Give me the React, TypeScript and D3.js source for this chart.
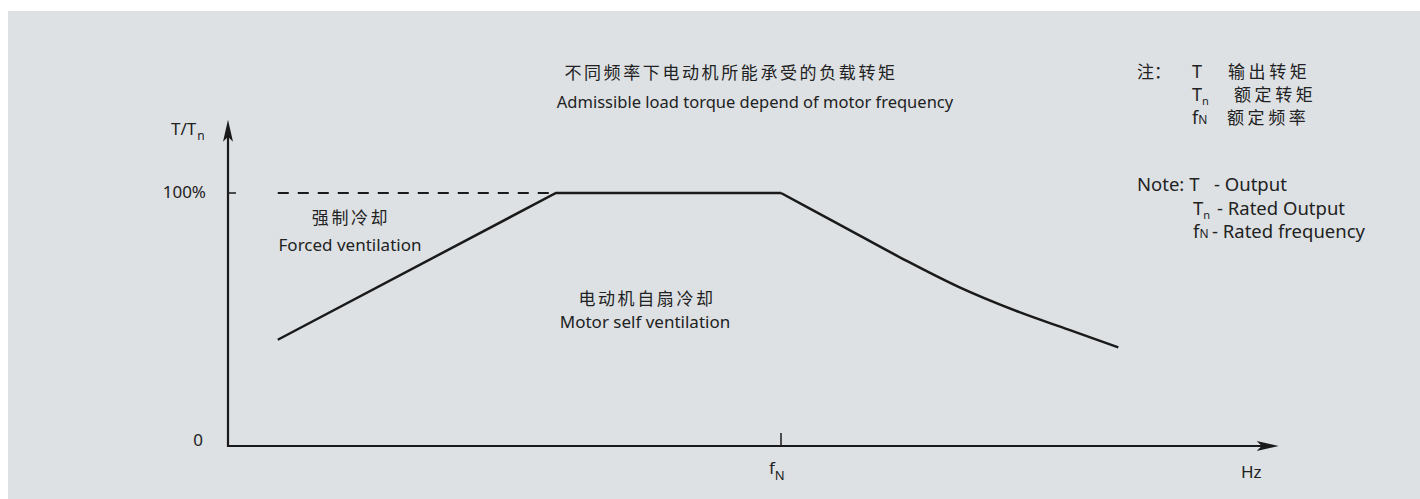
import React from "react";
import * as d3 from "d3";

// frequency as a fraction of fN, torque as a fraction of Tn
const riseFreq = [0.09, 0.593, 1.0];
const riseTorque = [0.42, 1.0, 1.0];
const fallFreq = [1.0, 1.11, 1.22, 1.32, 1.43, 1.52, 1.61];
const fallTorque = [1.0, 0.87, 0.74, 0.63, 0.53, 0.46, 0.39];
const dashFreq = [0.09, 0.593];
const dashTorque = [1.0, 1.0];

const yTicks = [0, 1];
const yTickLabels = ["0", "100%"];

const W = 1420;
const H = 499;
const BG = "#dde1e4";
const INK = "#1a1a1a";
const TXT = "#222222";
const LATIN = "'Noto Sans', 'Open Sans', sans-serif";
const CJK = "'Noto Sans CJK SC', 'Noto Sans', sans-serif";

const App: React.FC = () => {
  const x = d3.scaleLinear().domain([0, 1.9]).range([228, 228 + 553 * 1.9]);
  const y = d3.scaleLinear().domain([0, 1]).range([446, 193]);

  const straight = d3
    .line<[number, number]>()
    .x((d) => x(d[0]))
    .y((d) => y(d[1]));
  const smooth = d3
    .line<[number, number]>()
    .x((d) => x(d[0]))
    .y((d) => y(d[1]))
    .curve(d3.curveMonotoneX);

  const risePts = riseFreq.map((f, i) => [f, riseTorque[i]] as [number, number]);
  const fallPts = fallFreq.map((f, i) => [f, fallTorque[i]] as [number, number]);
  const dashPts = dashFreq.map((f, i) => [f, dashTorque[i]] as [number, number]);

  const x0 = x(0);
  const y0 = y(0);
  const xEnd = x(1.9);
  const yTop = y(1.29);

  return (
    <svg
      width={W}
      height={H}
      style={{ position: "absolute", left: 0, top: 0, background: "#ffffff" }}
    >
      <rect x={8} y={11} width={W - 8} height={H - 11} fill={BG} />

      {/* axes */}
      <line x1={x0} y1={y0} x2={xEnd - 16} y2={y0} stroke={INK} strokeWidth={2.2} />
      <line x1={x0} y1={y0 + 1.1} x2={x0} y2={yTop + 16} stroke={INK} strokeWidth={2.2} />
      <path
        d={`M${xEnd},${y0} L${xEnd - 22},${y0 - 5} L${xEnd - 17},${y0} L${xEnd - 22},${y0 + 5} Z`}
        fill={INK}
      />
      <path
        d={`M${x0},${yTop} L${x0 - 5},${yTop + 22} L${x0},${yTop + 17} L${x0 + 5},${yTop + 22} Z`}
        fill={INK}
      />

      {/* y ticks */}
      {yTicks.map((t, i) => (
        <g key={i}>
          {t > 0 && (
            <line x1={x0} x2={x0 + 8} y1={y(t)} y2={y(t)} stroke={INK} strokeWidth={1.5} />
          )}
          <text
            x={t > 0 ? 206 : 203}
            y={y(t) - (t > 0 ? 0 : 5)}
            textAnchor="end"
            dominantBaseline="middle"
            fontFamily={LATIN}
            fontSize={17}
            fill={TXT}
          >
            {yTickLabels[i]}
          </text>
        </g>
      ))}

      {/* fN tick */}
      <line x1={x(1)} x2={x(1)} y1={y0 - 13} y2={y0} stroke={INK} strokeWidth={1.5} />
      <text x={x(1) - 12} y={474} fontFamily={LATIN} fontSize={17} fill={TXT}>
        f
        <tspan fontSize={13} dy={6}>N</tspan>
      </text>
      <text x={1241} y={478} fontFamily={LATIN} fontSize={17} fill={TXT}>
        Hz
      </text>

      <text x={171} y={135} fontFamily={LATIN} fontSize={17} fill={TXT}>
        T/T
        <tspan fontSize={12} dy={5} dx={1}>n</tspan>
      </text>

      {/* curve */}
      <path
        d={straight(dashPts) ?? ""}
        fill="none"
        stroke={INK}
        strokeWidth={2}
        strokeDasharray="11 9"
      />
      <path d={straight(risePts) ?? ""} fill="none" stroke={INK} strokeWidth={2.5} />
      <path d={smooth(fallPts) ?? ""} fill="none" stroke={INK} strokeWidth={2.5} />

      {/* title */}
      <text x={731} y={79} textAnchor="middle" fontFamily={CJK} fontSize={17} letterSpacing={2.6} fill={TXT}>
        不同频率下电动机所能承受的负载转矩
      </text>
      <text x={755} y={108} textAnchor="middle" fontFamily={LATIN} fontSize={16.5} fill={TXT}>
        Admissible load torque depend of motor frequency
      </text>

      {/* region labels */}
      <text x={351} y={224} textAnchor="middle" fontFamily={CJK} fontSize={17} letterSpacing={2.6} fill={TXT}>
        强制冷却
      </text>
      <text x={350} y={251} textAnchor="middle" fontFamily={LATIN} fontSize={17} fill={TXT}>
        Forced ventilation
      </text>
      <text x={647} y={305} textAnchor="middle" fontFamily={CJK} fontSize={17} letterSpacing={2.6} fill={TXT}>
        电动机自扇冷却
      </text>
      <text x={645} y={328} textAnchor="middle" fontFamily={LATIN} fontSize={17} fill={TXT}>
        Motor self ventilation
      </text>

      {/* notes */}
      <g fill={TXT}>
        <text x={1137} y={78} fontFamily={CJK} fontSize={17}>注：</text>
        <text x={1192} y={78} fontFamily={LATIN} fontSize={18}>T</text>
        <text x={1228} y={78} fontFamily={CJK} fontSize={17} letterSpacing={3.6}>输出转矩</text>

        <text x={1192} y={101} fontFamily={LATIN} fontSize={18}>
          T<tspan fontSize={11} dy={4}>n</tspan>
        </text>
        <text x={1234} y={101} fontFamily={CJK} fontSize={17} letterSpacing={3.6}>额定转矩</text>

        <text x={1192} y={124} fontFamily={LATIN} fontSize={18}>
          f<tspan fontSize={12}>N</tspan>
        </text>
        <text x={1227} y={124} fontFamily={CJK} fontSize={17} letterSpacing={3.6}>额定频率</text>

        <text x={1137} y={191} fontFamily={LATIN} fontSize={18.5}>
          Note: T
        </text>
        <text x={1214} y={191} fontFamily={LATIN} fontSize={18.5}>- Output</text>

        <text x={1193} y={215} fontFamily={LATIN} fontSize={18.5}>
          T<tspan fontSize={11} dy={4}>n</tspan>
        </text>
        <text x={1217} y={215} fontFamily={LATIN} fontSize={18.5}>- Rated Output</text>

        <text x={1193} y={238} fontFamily={LATIN} fontSize={18.5}>
          f<tspan fontSize={12}>N</tspan>
        </text>
        <text x={1212} y={238} fontFamily={LATIN} fontSize={18.5}>- Rated frequency</text>
      </g>
    </svg>
  );
};

export default App;
